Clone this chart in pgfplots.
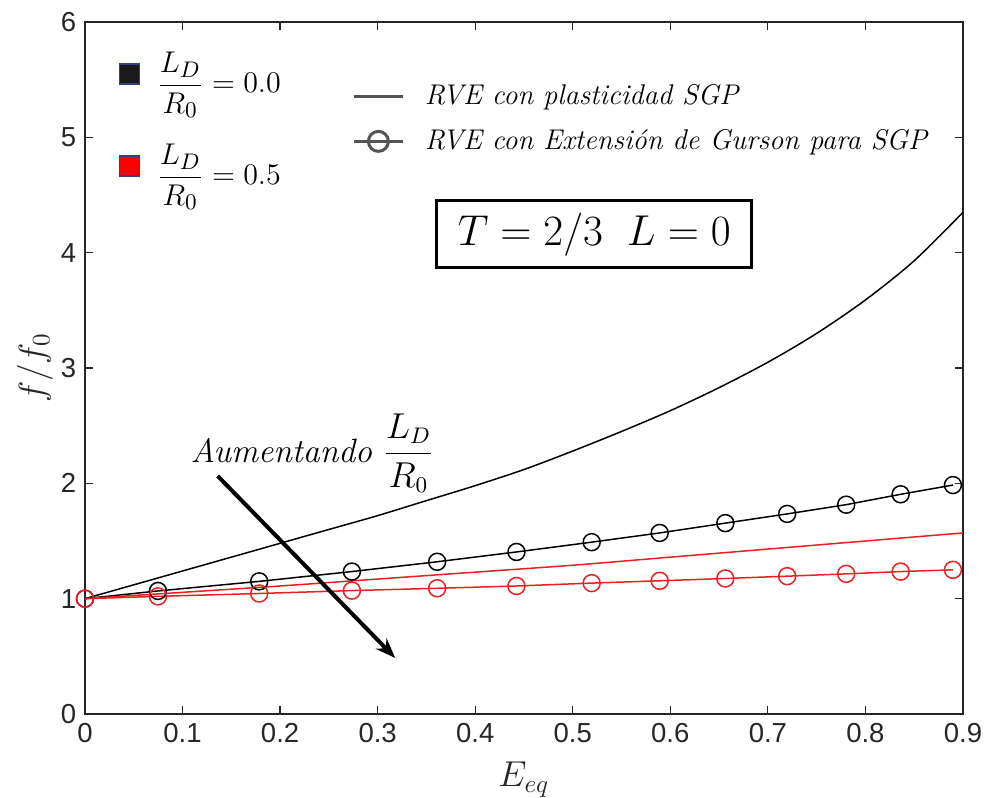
\documentclass[border=0pt]{standalone}
\usepackage{fontspec}
\usepackage{pgfplots}
\pgfplotsset{compat=1.18}
\usetikzlibrary{arrows.meta}
\newfontfamily\ticksf{Liberation Sans}
\definecolor{mred}{rgb}{0.92,0.12,0.12}
\definecolor{axgray}{rgb}{0.15,0.15,0.15}
\definecolor{leggray}{rgb}{0.33,0.33,0.33}
\definecolor{sqborder}{rgb}{0.2,0.25,0.5}
\begin{document}
\begin{tikzpicture}
\useasboundingbox (-34pt,-33.6pt) rectangle (360.8pt,285.6pt);
\begin{axis}[
  at={(0,0)}, anchor=origin,
  scale only axis, width=351.2pt, height=276.8pt,
  xmin=0, xmax=0.9, ymin=0, ymax=6,
  xtick={0,0.1,0.2,0.3,0.4,0.5,0.6,0.7,0.8,0.9},
  ytick={0,1,2,3,4,5,6},
  tick align=inside, tick pos=both,
  major tick length=3.2pt,
  axis line style={axgray, line width=0.5pt},
  tick style={axgray, line width=0.5pt},
  /pgf/number format/assume math mode=true,
  ticklabel style={font=\ticksf\fontsize{11}{11}\selectfont, text=axgray},
  xticklabel style={/pgf/number format/fixed, /pgf/number format/precision=1},
  xlabel={$E_{eq}$},
  ylabel={$f/f_0$},
  xlabel style={at={(axis description cs:0.5,-0.095)}, anchor=center, font=\fontsize{14}{14}\selectfont, text=axgray},
  ylabel style={at={(axis description cs:-0.057,0.5)}, anchor=center, font=\fontsize{14}{14}\selectfont, text=axgray},
  legend style={at={(rel axis cs:0.03,0.972)}, anchor=north west, draw=none, fill=none,
    font=\fontsize{12.5}{14}\selectfont, row sep=15pt, column sep=5pt},
  legend cell align=left,
]
% SGP, L_D/R_0 = 0
\addplot[black, line width=0.6pt, smooth, forget plot] coordinates {
(0,1.00) (0.05,1.12) (0.1,1.24) (0.15,1.36) (0.2,1.48) (0.25,1.60) (0.3,1.72)
(0.35,1.85) (0.4,1.98) (0.45,2.12) (0.5,2.28) (0.55,2.45) (0.6,2.63) (0.65,2.83)
(0.7,3.05) (0.75,3.30) (0.8,3.59) (0.85,3.93) (0.9,4.35)};
% Gurson, L_D/R_0 = 0
\addplot[black, line width=0.6pt, mark=o, mark size=3.4pt, forget plot] coordinates {
(0,1.0) (0.0748,1.067) (0.1786,1.15) (0.2736,1.235) (0.3610,1.32) (0.4423,1.405)
(0.5194,1.49) (0.5891,1.57) (0.6564,1.655) (0.7198,1.735) (0.7803,1.815)
(0.8361,1.905) (0.8897,1.985)};
% SGP, L_D/R_0 = 0.5
\addplot[mred, line width=0.6pt, smooth, forget plot] coordinates {
(0,1.0) (0.1,1.055) (0.2,1.11) (0.3,1.17) (0.4,1.23) (0.5,1.29) (0.6,1.36)
(0.7,1.43) (0.8,1.50) (0.9,1.57)};
% Gurson, L_D/R_0 = 0.5
\addplot[mred, line width=0.6pt, mark=o, mark size=3.4pt, forget plot] coordinates {
(0,1.0) (0.0748,1.02) (0.1786,1.045) (0.2736,1.07) (0.3610,1.09) (0.4423,1.11)
(0.5194,1.135) (0.5891,1.155) (0.6564,1.175) (0.7198,1.195) (0.7803,1.215)
(0.8361,1.235) (0.8897,1.25)};
\addlegendimage{only marks, mark=square*, mark size=4pt, mark options={fill=black!90, draw=sqborder, line width=0.6pt}}
\addlegendentry{$\displaystyle\frac{L_D}{R_0} = 0.0$}
\addlegendimage{only marks, mark=square*, mark size=4pt, mark options={fill=red, draw=sqborder, line width=0.6pt}}
\addlegendentry{$\displaystyle\frac{L_D}{R_0} = 0.5$}
\node[draw, line width=1.2pt, minimum width=126pt, minimum height=27pt,
  font=\fontsize{18}{18}\selectfont] at (axis cs:0.522,4.16) {$T = 2/3\;\; L = 0$};
\draw[line width=1.6pt, -{Stealth[length=8pt, width=6pt]}] (axis cs:0.136,2.064) -- (axis cs:0.318,0.486);
\node[font=\fontsize{13.5}{13.5}\selectfont] at (axis cs:0.233,2.26) {\textit{Aumentando} $\displaystyle\frac{L_D}{R_0}$};
\end{axis}
\begin{axis}[
  at={(0,0)}, anchor=origin,
  scale only axis, width=351.2pt, height=276.8pt,
  xmin=0, xmax=0.9, ymin=0, ymax=6,
  hide axis,
  legend style={at={(rel axis cs:0.295,0.925)}, anchor=north west, draw=none, fill=none,
    font=\fontsize{11.4}{13}\selectfont\itshape, row sep=4.5pt, column sep=6pt},
  legend cell align=left,
  legend image code/.code={\draw[#1] (0cm,0cm) -- (0.7cm,0cm); \draw[#1, only marks] plot coordinates {(0.35cm,0cm)};},
]
\addlegendimage{leggray, line width=1.2pt, mark=none}
\addlegendentry{RVE con plasticidad SGP}
\addlegendimage{leggray, line width=1.2pt, mark=o, mark size=4pt, mark options={line width=1.2pt}}
\addlegendentry{RVE con Extensión de Gurson para SGP}
\end{axis}
\end{tikzpicture}
\end{document}
